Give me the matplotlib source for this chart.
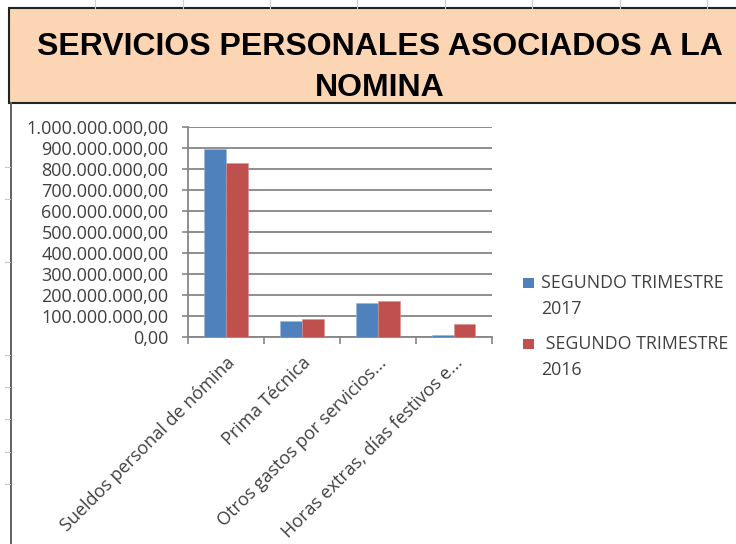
import matplotlib
matplotlib.use("Agg")
import matplotlib.pyplot as plt
import numpy as np
from matplotlib.patches import Rectangle
from matplotlib.ticker import FuncFormatter, MultipleLocator, FixedLocator

W, H = 736, 544

# --- data ---
categories = [
    "Sueldos personal de nómina",
    "Prima Técnica",
    "Otros gastos por servicios...",
    "Horas extras, días festivos e...",
]
trim_2017 = [895_000_000, 75_000_000, 163_000_000, 8_000_000]
trim_2016 = [827_000_000, 84_000_000, 170_000_000, 62_000_000]
series_labels = ["SEGUNDO TRIMESTRE\n2017", " SEGUNDO TRIMESTRE\n2016"]
series_colors = ["#4F81BD", "#C0504D"]
title_lines = ["SERVICIOS PERSONALES ASOCIADOS A LA", "NOMINA"]

TXT = "#404040"
GRID = "#868686"
FONT = ["Open Sans", "DejaVu Sans"]


def fx(px):
    return px / W


def fy(py):
    return 1 - py / H


def es_fmt(v, _pos=None):
    s = f"{v:,.2f}"
    return s.replace(",", "X").replace(".", ",").replace("X", ".")


fig = plt.figure(figsize=(W / 100, H / 100), dpi=100)
fig.patch.set_facecolor("white")

# spreadsheet remnants: column lines at top, left border with row ticks
for x in [95, 183, 270, 357, 445, 532, 620, 707]:
    fig.add_artist(plt.Line2D([fx(x), fx(x)], [fy(0), fy(8)], color="#d0d0d0", lw=0.8))
fig.add_artist(plt.Line2D([fx(11), fx(11)], [fy(103), fy(544)], color="#606060", lw=1.4))
for y in [167, 199, 262, 355, 387, 419, 452, 484]:
    fig.add_artist(plt.Line2D([fx(5), fx(10)], [fy(y), fy(y)], color="#c8c8c8", lw=0.8))

# title box
fig.add_artist(Rectangle((fx(9), fy(103)), fx(740) - fx(9), fy(8) - fy(103),
                         transform=fig.transFigure, facecolor="#FCD5B4",
                         edgecolor="#222222", lw=1.5))
fig.text(fx(380), fy(55), title_lines[0], ha="center", va="baseline",
         fontsize=23, fontweight="bold", family="Liberation Sans", color="black")
fig.text(fx(380), fy(96), title_lines[1], ha="center", va="baseline",
         fontsize=23, fontweight="bold", family="Liberation Sans", color="black")

# chart
ax = fig.add_axes([fx(188), fy(337), fx(491.7) - fx(188), fy(127) - fy(337)])
x = np.arange(len(categories))
bw = 0.286
ax.bar(x - bw / 2, trim_2017, bw, color=series_colors[0], edgecolor="#9db6d8",
       linewidth=0.4, zorder=3)
ax.bar(x + bw / 2, trim_2016, bw, color=series_colors[1], edgecolor="#d99290",
       linewidth=0.4, zorder=3)

ax.set_xlim(-0.5, len(categories) - 0.5)
ax.set_ylim(0, 1_000_000_000)
ax.yaxis.set_major_locator(MultipleLocator(100_000_000))
ax.yaxis.set_major_formatter(FuncFormatter(es_fmt))
ax.grid(axis="y", color=GRID, lw=1.3, zorder=0)
for s in ["top", "right"]:
    ax.spines[s].set_visible(False)
for s in ["left", "bottom"]:
    ax.spines[s].set_color(GRID)
    ax.spines[s].set_linewidth(1.3)
ax.tick_params(axis="y", length=4, width=1.2, color=GRID, pad=10,
               labelsize=13, labelcolor=TXT)

ax.set_xticks(x)
ax.set_xticklabels(categories, rotation=45, ha="right", va="top",
                   rotation_mode="anchor", fontsize=13, color=TXT, family=FONT)
ax.xaxis.set_minor_locator(FixedLocator(np.arange(-0.5, len(categories), 1.0)))
ax.tick_params(axis="x", which="major", length=0, pad=12)
ax.tick_params(axis="x", which="minor", length=5, width=1.2, color=GRID)
for lab in ax.get_yticklabels():
    lab.set_family(FONT)

# legend (drawn by hand to match the spreadsheet layout)
leg_y = [278, 339]
for yy, lab, col in zip(leg_y, series_labels, series_colors):
    fig.add_artist(Rectangle((fx(523), fy(yy + 10)), fx(11), fy(0) - fy(10),
                             transform=fig.transFigure, facecolor=col, lw=0))
    fig.text(fx(541), fy(yy - 4), lab, ha="left", va="top", fontsize=12.8,
             color=TXT, family=FONT, linespacing=1.55)

fig.savefig("out.png", dpi=100)
